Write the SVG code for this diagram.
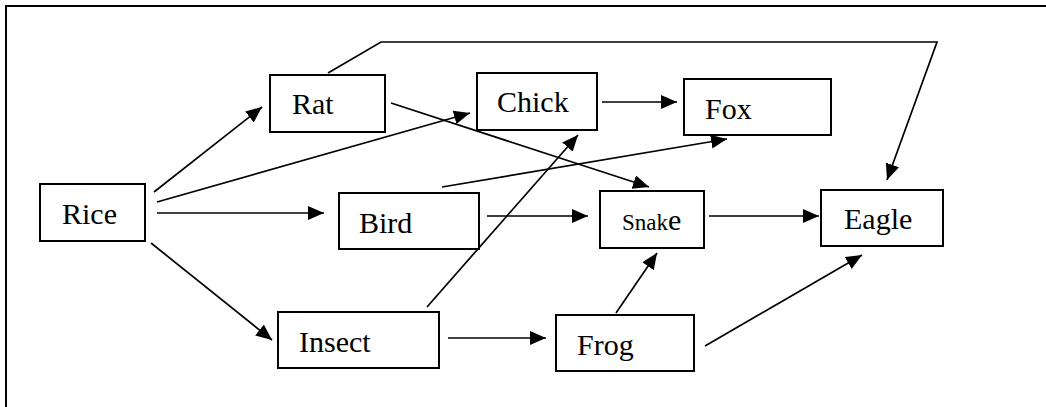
<svg xmlns="http://www.w3.org/2000/svg" width="1046" height="407" viewBox="0 0 1046 407">
<style>
.box{fill:#fff;stroke:#000;stroke-width:2}
.lbl{font-family:"Liberation Serif","Times New Roman",serif;font-size:30px;fill:#000}
.sm{font-size:23px}
.c{fill:none;stroke:#000;stroke-width:1.7}
</style>
<defs>
<marker id="ah" markerUnits="userSpaceOnUse" markerWidth="17" markerHeight="15" refX="16" refY="7" orient="auto">
<path d="M0,0 L16,7 L0,14 z" fill="#000"/>
</marker>
</defs>
<rect width="1046" height="407" fill="#fff"/>
<path d="M6,407 V6 H1046" fill="none" stroke="#000" stroke-width="2"/>
<g id="connectors">
<polyline class="c" points="328,73 381,42 937,42 887,180" marker-end="url(#ah)"/>
<line class="c" x1="154" y1="192" x2="262" y2="107" marker-end="url(#ah)"/>
<line class="c" x1="157" y1="202" x2="470" y2="113" marker-end="url(#ah)"/>
<line class="c" x1="157" y1="213" x2="324" y2="213" marker-end="url(#ah)"/>
<line class="c" x1="151" y1="243" x2="272" y2="340" marker-end="url(#ah)"/>
<line class="c" x1="391" y1="103" x2="649" y2="187" marker-end="url(#ah)"/>
<line class="c" x1="602" y1="102" x2="677" y2="102" marker-end="url(#ah)"/>
<line class="c" x1="442" y1="187" x2="727" y2="139" marker-end="url(#ah)"/>
<line class="c" x1="427" y1="307" x2="578" y2="135" marker-end="url(#ah)"/>
<line class="c" x1="487" y1="216" x2="588" y2="216" marker-end="url(#ah)"/>
<line class="c" x1="709" y1="216" x2="819" y2="216" marker-end="url(#ah)"/>
<line class="c" x1="448" y1="338" x2="546" y2="338" marker-end="url(#ah)"/>
<line class="c" x1="616" y1="313" x2="657" y2="253" marker-end="url(#ah)"/>
<line class="c" x1="705" y1="346" x2="862" y2="255" marker-end="url(#ah)"/>
</g>
<g id="rice"><rect class="box" x="40" y="184" width="105" height="57"/><text class="lbl" x="62" y="224">Rice</text></g>
<g id="rat"><rect class="box" x="270" y="75" width="115" height="57"/><text class="lbl" x="292" y="114">Rat</text></g>
<g id="chick"><rect class="box" x="477" y="73" width="120" height="57"/><text class="lbl" x="497" y="112">Chick</text></g>
<g id="fox"><rect class="box" x="684" y="79" width="147" height="56"/><text class="lbl" x="705" y="119">Fox</text></g>
<g id="bird"><rect class="box" x="339" y="193" width="140" height="56"/><text class="lbl" x="359" y="233">Bird</text></g>
<g id="snake"><rect class="box" x="600" y="191" width="104" height="57"/><text class="lbl" x="622" y="230"><tspan class="sm">Snak</tspan>e</text></g>
<g id="eagle"><rect class="box" x="821" y="190" width="122" height="56"/><text class="lbl" x="844" y="229">Eagle</text></g>
<g id="insect"><rect class="box" x="278" y="312" width="161" height="56"/><text class="lbl" x="299" y="352">Insect</text></g>
<g id="frog"><rect class="box" x="556" y="315" width="138" height="56"/><text class="lbl" x="577" y="355">Frog</text></g>
</svg>
